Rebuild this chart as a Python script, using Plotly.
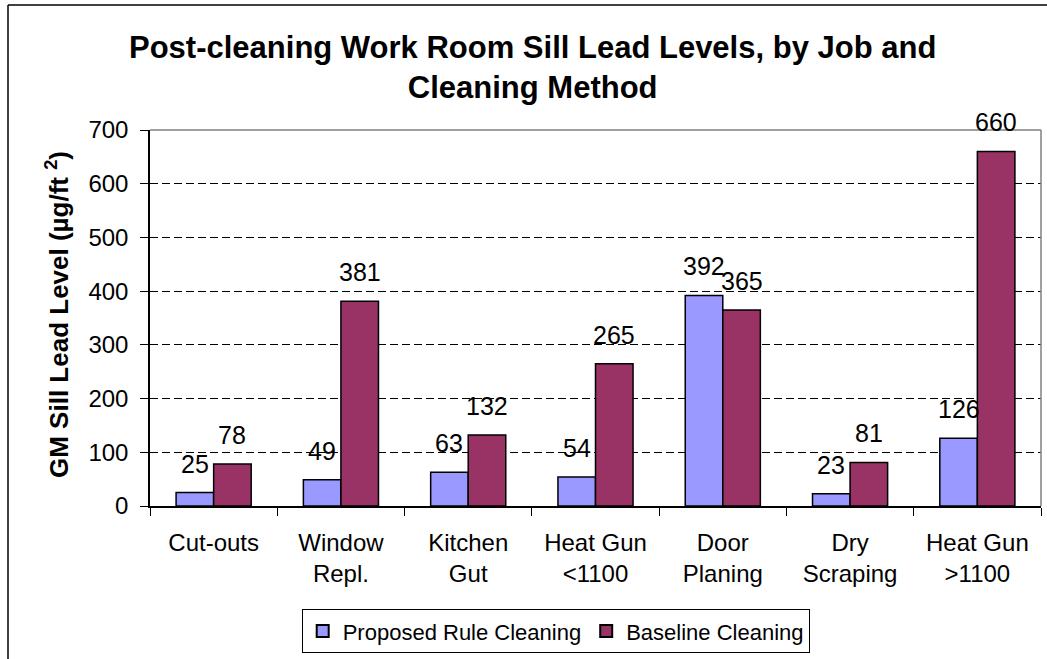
import plotly.graph_objects as go

categories = ["Cut-outs", "Window<br>Repl.", "Kitchen<br>Gut", "Heat Gun<br><1100",
              "Door<br>Planing", "Dry<br>Scraping", "Heat Gun<br>>1100"]
proposed = [25, 49, 63, 54, 392, 23, 126]
baseline = [78, 381, 132, 265, 365, 81, 660]
series_names = ["Proposed Rule Cleaning", "Baseline Cleaning"]
y_ticks = [0, 100, 200, 300, 400, 500, 600, 700]

FONT = "Liberation Sans, Arial, sans-serif"
W, H = 1047, 659
L, R, T, B = 150, 1041, 130, 506  # plot area in pixels

def px(x):
    return (x - L) / (R - L)

def py(y):
    return (B - y) / (B - T)

fig = go.Figure()
fig.add_trace(go.Bar(x=categories, y=proposed, name=series_names[0],
                     marker=dict(color="#9999FF", line=dict(color="black", width=1.5))))
fig.add_trace(go.Bar(x=categories, y=baseline, name=series_names[1],
                     marker=dict(color="#993366", line=dict(color="black", width=1.5))))

bargap = 0.41
bar_px = (R - L) / len(categories) * (1 - bargap) / 2
annotations = []
for vals, shift in ((proposed, -bar_px / 2), (baseline, bar_px / 2)):
    for c, v in zip(categories, vals):
        annotations.append(dict(x=c, y=v, xref="x", yref="y", text=str(v),
                                showarrow=False, xshift=shift, yshift=13,
                                yanchor="bottom", xanchor="center",
                                font=dict(family=FONT, size=25, color="black")))

annotations.append(dict(x=px(57), y=py(315), xref="paper", yref="paper",
                        text="<b>GM Sill Lead Level (µg/ft <sup>2</sup>)</b>",
                        textangle=-90, showarrow=False, xanchor="center", yanchor="middle",
                        font=dict(family=FONT, size=26, color="black")))

annotations.append(dict(x=px(532), y=py(68), xref="paper", yref="paper",
                        text="<b>Post-cleaning Work Room Sill Lead Levels, by Job and<br>Cleaning Method</b>",
                        showarrow=False, xanchor="center", yanchor="middle",
                        font=dict(family=FONT, size=31, color="black")))

shapes = [
    # plot area border (top and right)
    dict(type="line", xref="paper", yref="paper", x0=0, x1=1, y0=1, y1=1,
         line=dict(color="#808080", width=1.5), layer="above"),
    dict(type="line", xref="paper", yref="paper", x0=1, x1=1, y0=0, y1=1,
         line=dict(color="#808080", width=1.5), layer="above"),
    # outer chart frame (left and top)
    dict(type="line", xref="paper", yref="paper", x0=px(8), x1=px(8), y0=py(5), y1=py(700),
         line=dict(color="black", width=1.5)),
    dict(type="line", xref="paper", yref="paper", x0=px(8), x1=px(1100), y0=py(5), y1=py(5),
         line=dict(color="black", width=1.5)),
]

fig.update_layout(
    width=W, height=H,
    margin=dict(l=L, r=W - R, t=T, b=H - B, autoexpand=False),
    paper_bgcolor="white", plot_bgcolor="white",
    barmode="group", bargap=bargap, bargroupgap=0,
    font=dict(family=FONT, size=24, color="black"),
    showlegend=True,
    legend=dict(orientation="h", x=px(556), xanchor="center", y=py(609), yanchor="top",
                bordercolor="black", borderwidth=1.2, bgcolor="white",
                font=dict(family=FONT, size=22, color="black"),
                traceorder="normal", itemsizing="constant"),
    annotations=annotations,
    shapes=shapes,
)

fig.update_xaxes(showline=True, linecolor="black", linewidth=1.5,
                 ticks="outside", ticklen=8, tickcolor="black", tickwidth=1.2,
                 tickson="boundaries", showgrid=False, zeroline=False,
                 tickfont=dict(family=FONT, size=24, color="black"),
                 ticklabelstandoff=14)
fig.update_yaxes(range=[0, 700], tickvals=y_ticks, showline=True, linecolor="black",
                 linewidth=1.5, ticks="outside", ticklen=8, tickcolor="black", tickwidth=1.2,
                 showgrid=True, gridcolor="black", gridwidth=1, griddash="8px,4px",
                 zeroline=False, tickfont=dict(family=FONT, size=24, color="black"),
                 ticklabelstandoff=7)

fig.write_html("out.html", config={"displayModeBar": False},
               post_script="document.body.style.margin='0';")
